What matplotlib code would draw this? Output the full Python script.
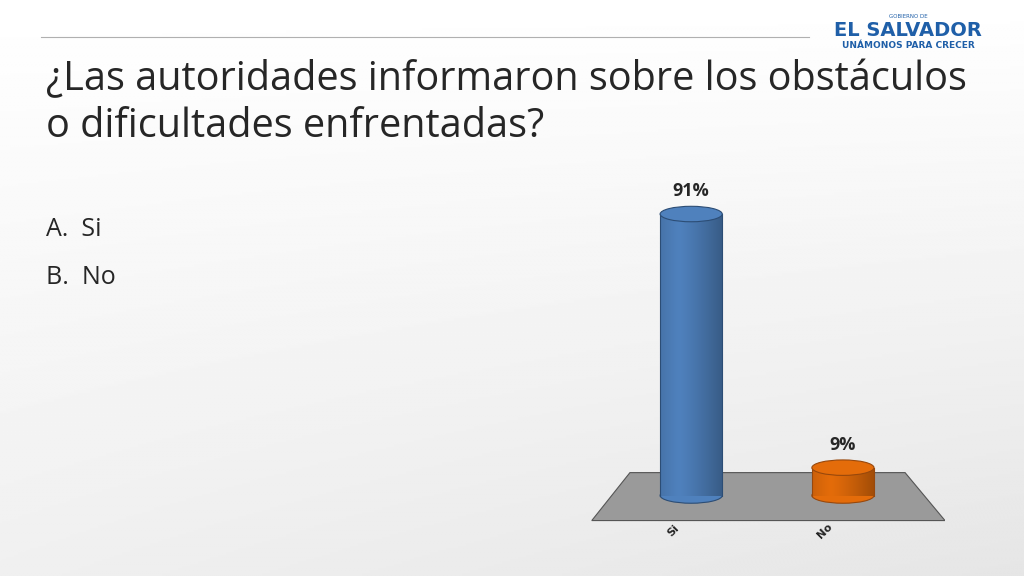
import numpy as np
import matplotlib.pyplot as plt
from matplotlib.patches import Polygon, Ellipse, Rectangle

categories = ['Si', 'No']
values = [91, 9]
value_labels = ['91%', '9%']
body_colors = ['#4f81bd', '#e46c0a']
edge_colors = ['#2c4d75', '#98480c']

fig = plt.figure(figsize=(10.24, 5.76), dpi=100)

# background
bg = fig.add_axes([0, 0, 1, 1])
grad = np.linspace(0, 1, 256).reshape(-1, 1) * np.linspace(0.6, 1, 256)
bg.imshow(1 - 0.1 * grad, cmap='gray', vmin=0, vmax=1, aspect='auto', extent=[0, 1, 0, 1])
bg.set_xlim(0, 1)
bg.set_ylim(0, 1)
bg.axis('off')
bg.plot([0.04, 0.79], [1 - 37 / 576] * 2, color='#b0b0b0', lw=0.8)
bg.text(0.045, 1 - 103 / 576, '¿Las autoridades informaron sobre los obstáculos\no dificultades enfrentadas?',
        fontsize=28.5, color='#262626', va='center', ha='left', family='Open Sans', linespacing=1.2)
bg.text(0.045, 1 - 229 / 576, 'A.  Si', fontsize=18, color='#262626', va='center', family='Open Sans')
bg.text(0.045, 1 - 277 / 576, 'B.  No', fontsize=18, color='#262626', va='center', family='Open Sans')
bg.text(0.887, 1 - 30 / 576, 'EL SALVADOR', fontsize=14, color='#1f5fa8', fontweight='bold', ha='center', va='center')
bg.text(0.887, 1 - 45 / 576, 'UNÁMONOS PARA CRECER', fontsize=6.5, color='#1f5fa8', fontweight='bold', ha='center', va='center')
bg.text(0.887, 1 - 17 / 576, 'GOBIERNO DE', fontsize=4, color='#1f5fa8', ha='center', va='center')

# chart
ax = fig.add_axes([590 / 1024, 31 / 576, 355 / 1024, 365 / 576])
ax.set_xlim(0, 2)
ax.set_ylim(-16, 102)
ax.axis('off')

floor = Polygon([(0.01, -8.1), (2.0, -8.1), (1.775, 7.4), (0.225, 7.4)],
                facecolor='#9a9a9a', edgecolor='#555555', lw=0.8, zorder=1)
ax.add_patch(floor)

positions = [0.57, 1.425]
width = 0.35
eh = 5.0
for i, (x, v) in enumerate(zip(positions, values)):
    rect = Rectangle((x - width / 2, 0), width, v, facecolor='none', edgecolor='none', zorder=2)
    ax.add_patch(rect)
    shade = np.linspace(0, 1, 64).reshape(1, -1)
    shade = 1 - 0.45 * np.abs(shade - 0.3) ** 1.2
    base = np.array(plt.matplotlib.colors.to_rgb(body_colors[i]))
    img = shade[..., None] * base[None, None, :]
    im = ax.imshow(img, extent=[x - width / 2, x + width / 2, 0, v], aspect='auto', zorder=2)
    im.set_clip_path(rect)
    ax.add_patch(Ellipse((x, 0), width, eh, facecolor=body_colors[i], edgecolor=edge_colors[i], lw=0.8, zorder=1.9))
    ax.plot([x - width / 2] * 2, [0, v], color=edge_colors[i], lw=0.8, zorder=3)
    ax.plot([x + width / 2] * 2, [0, v], color=edge_colors[i], lw=0.8, zorder=3)
    ax.add_patch(Ellipse((x, v), width, eh, facecolor=body_colors[i], edgecolor=edge_colors[i], lw=0.8, zorder=4))
    ax.text(x, v + 4.5, value_labels[i], ha='center', va='bottom', fontsize=13,
            fontweight='bold', color='#262626', family='Open Sans')
    ax.text(x - 0.1, -11.5, categories[i], ha='center', va='center', rotation=45,
            fontsize=8, fontweight='bold', color='#262626')

fig.savefig('out.png', dpi=100)
